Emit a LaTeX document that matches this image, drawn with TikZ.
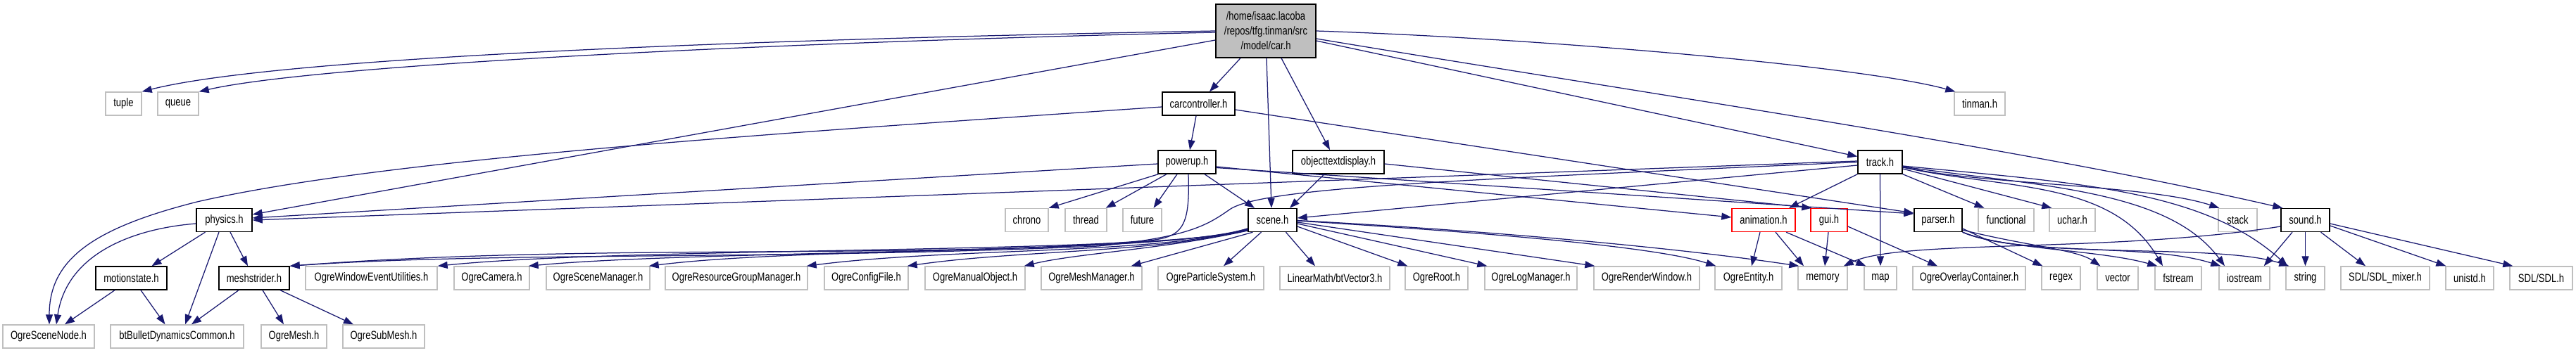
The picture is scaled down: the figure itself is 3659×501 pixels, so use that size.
\documentclass[tikz,border=0pt]{standalone}
\usepackage{fontspec}
\setmainfont{Liberation Sans}[FakeStretch=0.79]
\usetikzlibrary{arrows.meta}
\definecolor{edgeblue}{HTML}{191970}
\definecolor{grey75}{HTML}{BFBFBF}
\newcommand\lbl{\fontsize{16.5}{21}\selectfont}
\tikzset{
  box/.style={rectangle, minimum height=33pt, inner sep=0pt, font=\lbl, line width=1.4pt},
  doc/.style={box, draw=black},
  sys/.style={box, draw=grey75},
  trunc/.style={box, draw=red},
  root/.style={box, draw=black, fill=grey75, minimum height=76pt, align=center},
  e/.style={draw=edgeblue, line width=1.25pt, -{Triangle[length=14pt,width=10pt]}}
}
\begin{document}
\begin{tikzpicture}[x=1pt,y=-1pt]
\useasboundingbox (0,0) rectangle (3659,501);
% row 0
\node[root, minimum width=142pt] (car) at (1798,44) {/home/isaac.lacoba\\/repos/tfg.tinman/src\\/model/car.h};
% row 1
\node[sys, minimum width=51pt] (tuple) at (175.5,147.5) {tuple};
\node[sys, minimum width=58pt] (queue) at (253,147.5) {queue};
\node[doc, minimum width=103pt] (cc) at (1702.5,147.5) {carcontroller.h};
\node[sys, minimum width=72pt] (tinman) at (2812,147.5) {tinman.h};
% row 2
\node[doc, minimum width=82pt] (powerup) at (1686,230.5) {powerup.h};
\node[doc, minimum width=130pt] (otd) at (1901,230.5) {objecttextdisplay.h};
\node[doc, minimum width=63pt] (track) at (2670.5,230.5) {track.h};
% row 3
\node[doc, minimum width=79pt] (physics) at (318.5,313) {physics.h};
\node[sys, minimum width=61pt] (chrono) at (1458.5,313) {chrono};
\node[sys, minimum width=59pt] (thread) at (1542.5,313) {thread};
\node[sys, minimum width=55pt] (future) at (1622.5,313) {future};
\node[doc, minimum width=69pt] (scene) at (1807.5,313) {scene.h};
\node[trunc, minimum width=90pt] (animation) at (2505,313) {animation.h};
\node[trunc, minimum width=52pt] (gui) at (2598,313) {gui.h};
\node[doc, minimum width=68pt] (parser) at (2753,313) {parser.h};
\node[sys, minimum width=79pt] (functional) at (2849.5,313) {functional};
\node[sys, minimum width=65pt] (uchar) at (2943.5,313) {uchar.h};
\node[sys, minimum width=55pt] (stack) at (3178.5,313) {stack};
\node[doc, minimum width=69pt] (sound) at (3274.5,313) {sound.h};
% row 4
\node[doc, minimum width=101pt] (motionstate) at (186.5,395.5) {motionstate.h};
\node[doc, minimum width=100pt] (meshstrider) at (361,395.5) {meshstrider.h};
\node[sys, minimum width=187pt] (oweu) at (527.5,395.5) {OgreWindowEventUtilities.h};
\node[sys, minimum width=107pt] (camera) at (698.5,395.5) {OgreCamera.h};
\node[sys, minimum width=147pt] (osm) at (849.5,395.5) {OgreSceneManager.h};
\node[sys, minimum width=202pt] (orgm) at (1046,395.5) {OgreResourceGroupManager.h};
\node[sys, minimum width=119pt] (ocf) at (1230.5,395.5) {OgreConfigFile.h};
\node[sys, minimum width=142pt] (omo) at (1385,395.5) {OgreManualObject.h};
\node[sys, minimum width=143pt] (omm) at (1550.5,395.5) {OgreMeshManager.h};
\node[sys, minimum width=150pt] (ops) at (1720,395.5) {OgreParticleSystem.h};
\node[sys, minimum width=156pt] (lm) at (1896,395.5) {LinearMath/btVector3.h};
\node[sys, minimum width=89pt] (root) at (2040.5,395.5) {OgreRoot.h};
\node[sys, minimum width=131pt] (olm) at (2174.5,395.5) {OgreLogManager.h};
\node[sys, minimum width=150pt] (orw) at (2339,395.5) {OgreRenderWindow.h};
\node[sys, minimum width=95pt] (oe) at (2483.5,395.5) {OgreEntity.h};
\node[sys, minimum width=70pt] (memory) at (2589,395.5) {memory};
\node[sys, minimum width=46pt] (map) at (2671,395.5) {map};
\node[sys, minimum width=160pt] (ooc) at (2797,395.5) {OgreOverlayContainer.h};
\node[sys, minimum width=55pt] (regex) at (2927.5,395.5) {regex};
\node[sys, minimum width=58pt] (vector) at (3008,395.5) {vector};
\node[sys, minimum width=66pt] (fstream) at (3094,395.5) {fstream};
\node[sys, minimum width=72pt] (iostream) at (3188,395.5) {iostream};
\node[sys, minimum width=55pt] (string) at (3274.5,395.5) {string};
\node[sys, minimum width=126pt] (sdlmixer) at (3388,395.5) {SDL/SDL\_mixer.h};
\node[sys, minimum width=68pt] (unistd) at (3508,395.5) {unistd.h};
\node[sys, minimum width=89pt] (sdl) at (3609.5,395.5) {SDL/SDL.h};
% row 5
\node[sys, minimum width=130pt] (osn) at (69,478.5) {OgreSceneNode.h};
\node[sys, minimum width=189pt] (bt) at (251.5,478.5) {btBulletDynamicsCommon.h};
\node[sys, minimum width=93pt] (ogremesh) at (417.5,478.5) {OgreMesh.h};
\node[sys, minimum width=116pt] (ogresubmesh) at (545,478.5) {OgreSubMesh.h};

% ---- edges from car.h
\draw[e] (car.west) .. controls (1100,55) and (400,80) .. (tuple.north east);
\draw[e] ([yshift=-2pt]car.west) .. controls (1100,60) and (450,92) .. (queue.north east);
\draw[e] ([yshift=-13pt]car.west) -- ([yshift=8pt]physics.east);
\draw[e] ([xshift=-36pt]car.south) -- ([xshift=15.5pt]cc.north);
\draw[e] ([xshift=1pt]car.south) -- ([xshift=-1.5pt]scene.north);
\draw[e] ([xshift=22pt]car.south) -- ([xshift=-12pt]otd.north);
\draw[e] ([yshift=-14pt]car.east) -- ([yshift=8pt]track.west);
\draw[e] ([yshift=-11pt]car.east) .. controls (2350,135) and (2870,210) .. ([xshift=3pt]sound.north west);
\draw[e] (car.east) .. controls (2200,55) and (2650,95) .. ([xshift=2pt]tinman.north west);
% ---- carcontroller.h
\draw[e] ([xshift=-3.5pt]cc.south) -- ([xshift=4pt]powerup.north);
\draw[e] ([yshift=-4.5pt]cc.west) .. controls (1100,190) and (550,225) .. (280,287) .. controls (130,325) and (70,370) .. ([xshift=1pt]osn.north);
\draw[e] ([yshift=-8.5pt]cc.east) -- ([yshift=10pt]parser.west);
% ---- powerup.h
\draw[e] ([yshift=-2.5pt]powerup.west) -- ([yshift=3pt]physics.east);
\draw[e] ([xshift=1pt]powerup.south west) -- (chrono.north east);
\draw[e] ([xshift=-29pt]powerup.south) -- ([xshift=-2pt]thread.north east);
\draw[e] ([xshift=-14pt]powerup.south) -- ([xshift=16pt]future.north);
\draw[e] ([xshift=25pt]powerup.south) -- ([xshift=-25.5pt]scene.north);
\draw[e] ([xshift=2pt]powerup.south) .. controls (1690,320) and (1682,338) .. (1630,342) .. controls (1300,370) and (850,345) .. (meshstrider.north east);
\draw[e] ([yshift=-6.5pt]powerup.east) -- ([yshift=4pt]animation.west);
\draw[e] ([yshift=-8pt]powerup.east) -- ([yshift=9pt]parser.west);
% ---- objecttextdisplay.h
\draw[e] ([xshift=-20pt]otd.south) -- ([xshift=24.5pt]scene.north);
\draw[e] ([yshift=-2.5pt]otd.east) -- ([xshift=2pt]gui.north west);
% ---- track.h
\draw[e] ([yshift=1.5pt]track.west) -- (physics.east);
\draw[e] (track.west) .. controls (2100,255) and (1800,265) .. (1748,297) .. controls (1715,320) and (1690,337) .. (1560,350) .. controls (1100,370) and (700,358) .. (meshstrider.north east);
\draw[e] ([yshift=-4.5pt]track.west) -- ([yshift=3pt]scene.east);
\draw[e] (track.south west) -- ([xshift=36pt]animation.north);
\draw[e] (track.south) -- (map.north);
\draw[e] (track.south east) -- ([xshift=-31pt]functional.north);
\draw[e] ([yshift=-9.5pt]track.east) -- ([xshift=4pt]uchar.north west);
\draw[e] ([yshift=-6.5pt]track.east) .. controls (2800,262) and (3050,262) .. ([xshift=2pt]stack.north west);
\draw[e] ([yshift=-7.5pt]track.east) .. controls (2850,270) and (3000,255) .. ([xshift=-22pt]fstream.north);
\draw[e] ([yshift=-6.5pt]track.east) .. controls (2900,265) and (3080,270) .. ([xshift=-28pt]iostream.north);
\draw[e] ([yshift=-5.5pt]track.east) .. controls (2950,260) and (3130,270) .. ([xshift=3pt]string.north west);
% ---- scene.h
\draw[e] ([yshift=-14pt]scene.west) .. controls (1650,362) and (900,350) .. (oweu.north east);
\draw[e] ([yshift=-13pt]scene.west) .. controls (1650,362) and (1000,355) .. ([xshift=-2pt]camera.north east);
\draw[e] ([yshift=-12pt]scene.west) .. controls (1650,362) and (1150,350) .. ([xshift=-2pt]osm.north east);
\draw[e] ([yshift=-12pt]scene.west) .. controls (1650,362) and (1350,352) .. ([xshift=-2pt]orgm.north east);
\draw[e] ([yshift=-13pt]scene.west) .. controls (1650,360) and (1450,355) .. ([xshift=-2pt]ocf.north east);
\draw[e] ([yshift=-15pt]scene.west) .. controls (1650,355) and (1530,360) .. ([xshift=-2pt]omo.north east);
\draw[e] ([xshift=-28pt]scene.south) -- ([xshift=-16pt]omm.north east);
\draw[e] ([xshift=-16pt]scene.south) -- ([xshift=18pt]ops.north);
\draw[e] ([xshift=19pt]scene.south) -- ([xshift=-28pt]lm.north);
\draw[e] ([yshift=-9pt]scene.east) -- ([xshift=4pt]root.north west);
\draw[e] ([yshift=-5pt]scene.east) -- ([xshift=4pt]olm.north west);
\draw[e] ([yshift=-3pt]scene.east) -- ([xshift=2pt]orw.north west);
\draw[e] ([yshift=-1pt]scene.east) .. controls (2100,330) and (2350,350) .. ([xshift=2pt]oe.north west);
\draw[e] ([yshift=-0.5pt]scene.east) .. controls (2150,330) and (2400,355) .. ([xshift=2pt]memory.north west);
% ---- animation.h, gui.h
\draw[e] ([xshift=-5pt]animation.south) -- ([xshift=4.5pt]oe.north);
\draw[e] ([xshift=17pt]animation.south) -- ([xshift=-27pt]memory.north);
\draw[e] ([xshift=32pt]animation.south) -- ([xshift=3pt]map.north west);
\draw[e] ([xshift=-1pt]gui.south) -- ([xshift=3pt]memory.north);
\draw[e] ([yshift=-9pt]gui.east) -- ([xshift=-45pt]ooc.north);
% ---- parser.h
\draw[e] ([yshift=-12pt]parser.east) -- ([xshift=2pt]regex.north west);
\draw[e] ([yshift=-14pt]parser.east) .. controls (2880,350) and (2950,355) .. ([xshift=5pt]vector.north west);
\draw[e] (parser.south east) .. controls (2850,355) and (2980,355) .. ([xshift=4pt]fstream.north west);
\draw[e] (parser.south east) .. controls (2870,365) and (3050,345) .. ([xshift=3pt]iostream.north west);
\draw[e] (parser.south east) .. controls (2880,370) and (3150,345) .. ([xshift=5pt]string.north west);
% ---- sound.h
\draw[e] ([yshift=-9pt]sound.west) .. controls (3000,360) and (2700,340) .. ([xshift=-6pt]memory.north east);
\draw[e] ([xshift=-18.5pt]sound.south) -- ([xshift=-9pt]iostream.north east);
\draw[e] (sound.south) -- (string.north);
\draw[e] ([xshift=22pt]sound.south) -- ([xshift=-28pt]sdlmixer.north);
\draw[e] ([yshift=-8pt]sound.east) -- ([xshift=1pt]unistd.north west);
\draw[e] ([yshift=-5pt]sound.east) -- ([xshift=5pt]sdl.north west);
% ---- physics.h, motionstate.h, meshstrider.h
\draw[e] ([yshift=-5pt]physics.west) .. controls (190,325) and (95,360) .. ([xshift=11pt]osn.north);
\draw[e] ([xshift=-27pt]physics.south) -- ([xshift=29pt]motionstate.north);
\draw[e] ([xshift=-7.5pt]physics.south) -- ([xshift=11.5pt]bt.north);
\draw[e] ([xshift=8.5pt]physics.south) -- ([xshift=-9pt]meshstrider.north);
\draw[e] ([xshift=-23.5pt]motionstate.south) -- ([xshift=23pt]osn.north);
\draw[e] ([xshift=13.5pt]motionstate.south) -- ([xshift=-17pt]bt.north);
\draw[e] ([xshift=-22pt]meshstrider.south) -- ([xshift=20.5pt]bt.north);
\draw[e] ([xshift=12pt]meshstrider.south) -- ([xshift=-14.5pt]ogremesh.north);
\draw[e] ([xshift=37pt]meshstrider.south) -- ([xshift=-43pt]ogresubmesh.north);
\end{tikzpicture}
\end{document}
